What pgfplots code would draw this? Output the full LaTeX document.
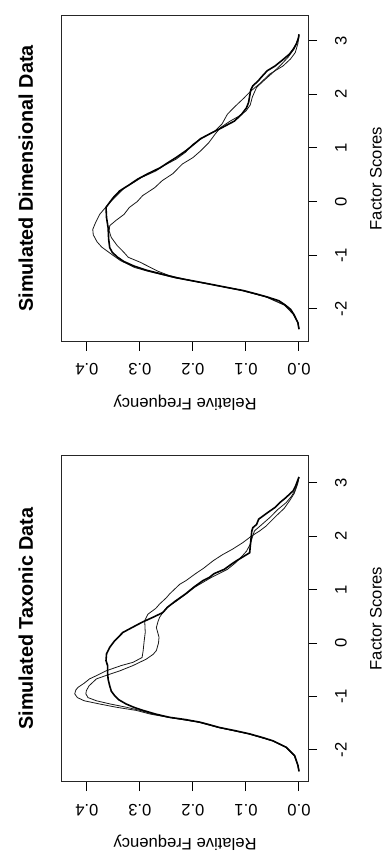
\documentclass[border=0pt]{standalone}
\usepackage{pgfplots}
\usepackage{pgfplotstable}
\pgfplotsset{compat=1.18}
\usepackage{fontspec}
\setmainfont{Liberation Sans}

% Running relative-frequency curves of factor scores (score, freq)
% --- taxonic panel ---
\pgfplotstableread{
score freq
-2.40 0.000
-2.29 0.002
-2.11 0.008
-1.95 0.024
-1.83 0.049
-1.77 0.068
-1.70 0.093
-1.64 0.120
-1.58 0.150
-1.53 0.168
-1.48 0.187
-1.43 0.215
-1.39 0.244
-1.33 0.270
-1.26 0.294
-1.20 0.312
-1.14 0.326
-1.06 0.340
-0.98 0.348
-0.90 0.354
-0.80 0.357
-0.68 0.360
-0.55 0.361
-0.42 0.361
-0.33 0.364
-0.20 0.363
-0.08 0.357
0.04 0.348
0.12 0.340
0.20 0.332
0.29 0.315
0.39 0.296
0.48 0.276
0.57 0.257
0.67 0.248
0.78 0.234
0.92 0.214
1.05 0.198
1.17 0.181
1.23 0.169
1.30 0.160
1.38 0.141
1.48 0.127
1.54 0.118
1.60 0.108
1.69 0.093
1.80 0.092
1.90 0.091
2.00 0.090
2.10 0.089
2.16 0.087
2.22 0.080
2.32 0.076
2.45 0.058
2.54 0.045
2.63 0.036
2.72 0.025
2.85 0.011
2.95 0.006
3.03 0.003
3.11 0.000
}\taxThick

\pgfplotstableread{
score freq
-2.40 0.000
-2.29 0.002
-2.11 0.009
-1.95 0.025
-1.83 0.050
-1.70 0.095
-1.58 0.152
-1.48 0.190
-1.39 0.246
-1.33 0.280
-1.26 0.307
-1.20 0.345
-1.14 0.376
-1.08 0.405
-1.02 0.418
-0.95 0.423
-0.88 0.421
-0.83 0.417
-0.75 0.405
-0.67 0.395
-0.60 0.380
-0.52 0.364
-0.42 0.335
-0.36 0.313
-0.27 0.296
-0.15 0.294
0.04 0.292
0.20 0.290
0.42 0.291
0.54 0.285
0.65 0.270
0.73 0.263
0.85 0.250
0.92 0.244
1.10 0.225
1.17 0.213
1.30 0.195
1.40 0.180
1.54 0.162
1.65 0.145
1.76 0.125
1.88 0.106
2.00 0.090
2.10 0.074
2.19 0.062
2.29 0.052
2.38 0.043
2.52 0.028
2.66 0.018
2.80 0.009
2.91 0.005
3.00 0.002
3.10 0.000
}\taxThinA

\pgfplotstableread{
score freq
-2.40 0.000
-2.29 0.002
-2.11 0.008
-1.95 0.024
-1.83 0.049
-1.70 0.094
-1.58 0.151
-1.48 0.188
-1.39 0.245
-1.33 0.275
-1.26 0.300
-1.20 0.326
-1.14 0.356
-1.08 0.382
-1.02 0.398
-0.95 0.402
-0.89 0.401
-0.80 0.396
-0.67 0.382
-0.60 0.362
-0.52 0.338
-0.42 0.313
-0.30 0.288
-0.21 0.275
-0.14 0.269
0.00 0.265
0.11 0.264
0.29 0.269
0.40 0.266
0.48 0.263
0.57 0.257
0.67 0.249
0.78 0.232
0.92 0.213
1.05 0.196
1.23 0.165
1.38 0.135
1.50 0.120
1.62 0.108
1.72 0.099
1.85 0.092
1.98 0.088
2.10 0.084
2.22 0.070
2.35 0.055
2.50 0.040
2.63 0.024
2.75 0.014
2.85 0.008
2.95 0.004
3.10 0.000
}\taxThinB

% --- dimensional panel ---
\pgfplotstableread{
score freq
-2.38 0.000
-2.26 0.002
-2.10 0.010
-2.01 0.016
-1.93 0.026
-1.85 0.038
-1.78 0.060
-1.73 0.078
-1.66 0.105
-1.60 0.137
-1.54 0.168
-1.48 0.200
-1.42 0.232
-1.35 0.260
-1.28 0.288
-1.20 0.312
-1.12 0.330
-1.04 0.342
-0.95 0.352
-0.86 0.357
-0.70 0.359
-0.49 0.360
-0.30 0.363
-0.11 0.364
0.00 0.356
0.10 0.348
0.20 0.338
0.30 0.322
0.42 0.304
0.52 0.285
0.63 0.262
0.72 0.248
0.82 0.232
0.95 0.213
1.07 0.198
1.17 0.186
1.28 0.165
1.38 0.145
1.50 0.122
1.63 0.108
1.75 0.099
1.85 0.095
1.97 0.093
2.08 0.091
2.16 0.087
2.25 0.077
2.31 0.072
2.44 0.060
2.53 0.045
2.65 0.030
2.75 0.018
2.84 0.011
2.94 0.005
3.05 0.001
3.12 0.000
}\dimThick

\pgfplotstableread{
score freq
-2.38 0.000
-2.26 0.002
-2.10 0.011
-1.93 0.028
-1.78 0.062
-1.66 0.108
-1.54 0.170
-1.42 0.235
-1.30 0.285
-1.23 0.310
-1.10 0.337
-0.98 0.354
-0.85 0.372
-0.75 0.381
-0.62 0.388
-0.52 0.389
-0.40 0.384
-0.24 0.376
-0.10 0.364
0.01 0.354
0.12 0.343
0.26 0.329
0.36 0.311
0.45 0.297
0.57 0.270
0.67 0.255
0.79 0.232
0.92 0.214
1.07 0.200
1.20 0.180
1.32 0.158
1.45 0.145
1.63 0.135
1.78 0.120
1.92 0.105
2.06 0.091
2.20 0.074
2.38 0.055
2.53 0.030
2.66 0.016
2.78 0.007
2.95 0.002
3.10 0.000
}\dimThinA

\pgfplotstableread{
score freq
-2.38 0.000
-2.26 0.002
-2.10 0.010
-1.93 0.027
-1.78 0.061
-1.66 0.106
-1.54 0.168
-1.45 0.215
-1.38 0.245
-1.30 0.266
-1.23 0.280
-1.13 0.300
-1.04 0.322
-0.95 0.330
-0.82 0.343
-0.67 0.354
-0.55 0.358
-0.45 0.357
-0.35 0.345
-0.24 0.330
-0.11 0.320
0.00 0.305
0.11 0.295
0.26 0.272
0.39 0.258
0.52 0.238
0.70 0.220
0.82 0.200
0.95 0.185
1.10 0.170
1.26 0.158
1.38 0.148
1.50 0.130
1.60 0.112
1.69 0.100
1.80 0.092
1.95 0.088
2.13 0.080
2.25 0.067
2.40 0.050
2.55 0.034
2.70 0.020
2.85 0.009
3.00 0.003
3.10 0.000
}\dimThinB

\newcommand{\basefont}{\fontsize{8.3}{10}\selectfont}

\pgfplotsset{
  freqpanel/.style={
    width=123pt, height=163.5pt, scale only axis,
    x dir=reverse,
    xmin=-0.017, xmax=0.447,
    xtick={0,0.1,0.2,0.3,0.4},
    xticklabels={0.0,0.1,0.2,0.3,0.4},
    ytick={-2,-1,0,1,2,3},
    yticklabels={-2,-1,0,1,2,3},
    xtick pos=left, ytick pos=right,
    xticklabel pos=left, yticklabel pos=right,
    tick align=outside,
    major tick length=4.5pt,
    tick style={black, line width=0.5pt},
    axis line style={black!85, line width=0.5pt},
    every tick label/.append style={font=\basefont, inner sep=0pt},
    xticklabel style={rotate=180, anchor=base},
    yticklabel style={rotate=90, anchor=base},
    xticklabel shift=6.5pt,
    yticklabel shift=14.75pt,
    every axis title/.style={at={(axis description cs:-0.118,0.5)},
      anchor=base, rotate=90, font=\fontsize{9.9}{12}\selectfont\bfseries},
    every axis x label/.style={at={(axis description cs:0.5,-0.173)},
      anchor=base, rotate=180, font=\basefont},
    every axis y label/.style={at={(axis description cs:1.299,0.5)},
      anchor=base, rotate=90, font=\basefont},
    xlabel={Relative Frequency},
    ylabel={Factor Scores},
  },
  thin curve/.style={black!90, line width=0.4pt, no marks},
  thick curve/.style={black, line width=0.8pt, no marks},
}

\begin{document}
\begin{tikzpicture}
\path[use as bounding box] (0,0) rectangle (195.5pt,428.5pt);

\begin{axis}[freqpanel, at={(31pt,37.5pt)}, anchor=south west,
  ymin=-2.60, ymax=3.52, title={Simulated Taxonic Data}]
  \addplot[thin curve] table[x=freq, y=score] {\taxThinA};
  \addplot[thin curve] table[x=freq, y=score] {\taxThinB};
  \addplot[thick curve] table[x=freq, y=score] {\taxThick};
\end{axis}

\begin{axis}[freqpanel, at={(31pt,257.5pt)}, anchor=south west,
  ymin=-2.62, ymax=3.48, title={Simulated Dimensional Data}]
  \addplot[thin curve] table[x=freq, y=score] {\dimThinA};
  \addplot[thin curve] table[x=freq, y=score] {\dimThinB};
  \addplot[thick curve] table[x=freq, y=score] {\dimThick};
\end{axis}
\end{tikzpicture}
\end{document}
